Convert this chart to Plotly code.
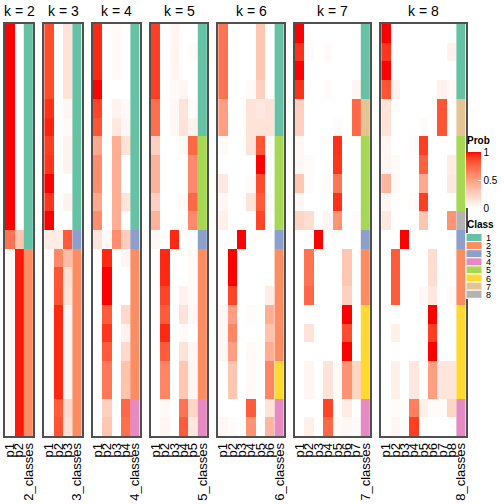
import numpy as np
import plotly.graph_objects as go

# ---------------- data ----------------
K_VALUES = [2, 3, 4, 5, 6, 7, 8]

K2_PROBS = [
    [1.00, 0.00], [1.00, 0.00], [1.00, 0.00], [1.00, 0.00], [1.00, 0.00], [1.00, 0.00],
    [1.00, 0.00], [1.00, 0.00], [1.00, 0.00], [1.00, 0.00], [1.00, 0.00],
    [0.70, 0.30],
    [0.03, 0.97], [0.03, 0.97], [0.03, 0.97], [0.03, 0.97], [0.03, 0.97],
    [0.03, 0.97], [0.03, 0.97], [0.03, 0.97], [0.03, 0.97], [0.03, 0.97],
]
K2_CLASS = [1, 1, 1, 1, 1, 1, 1, 1, 1, 1, 1, 1, 2, 2, 2, 2, 2, 2, 2, 2, 2, 2]

K3_PROBS = [
    [0.85, 0.00, 0.15], [0.85, 0.00, 0.15], [0.85, 0.00, 0.15], [0.85, 0.00, 0.15],
    [0.93, 0.00, 0.05], [0.96, 0.00, 0.03], [0.90, 0.00, 0.06], [0.92, 0.00, 0.06],
    [1.00, 0.00, 0.00], [0.92, 0.00, 0.06], [1.00, 0.00, 0.00],
    [0.10, 0.10, 0.80],
    [0.00, 0.60, 0.35], [0.00, 0.82, 0.17], [0.00, 0.83, 0.15],
    [0.00, 0.95, 0.04], [0.00, 0.95, 0.04], [0.00, 0.95, 0.04], [0.00, 0.95, 0.04],
    [0.00, 0.95, 0.04], [0.00, 0.80, 0.20], [0.00, 0.83, 0.16],
]
K3_CLASS = [1, 1, 1, 1, 1, 1, 1, 1, 1, 1, 1, 3, 2, 2, 2, 2, 2, 2, 2, 2, 2, 2]

K4_PROBS = [
    [0.95, 0.00, 0.03, 0.00], [0.95, 0.00, 0.03, 0.00], [0.95, 0.00, 0.03, 0.00],
    [1.00, 0.00, 0.00, 0.00], [0.88, 0.00, 0.06, 0.03], [0.82, 0.00, 0.12, 0.04],
    [0.45, 0.00, 0.42, 0.15], [0.58, 0.00, 0.42, 0.00], [0.58, 0.00, 0.42, 0.00],
    [0.45, 0.00, 0.42, 0.13], [0.58, 0.00, 0.42, 0.00],
    [0.13, 0.03, 0.58, 0.26],
    [0.00, 0.95, 0.00, 0.05], [0.00, 1.00, 0.00, 0.00], [0.00, 1.00, 0.00, 0.00],
    [0.00, 0.80, 0.00, 0.20], [0.00, 0.92, 0.00, 0.07], [0.00, 0.80, 0.00, 0.20],
    [0.00, 0.68, 0.00, 0.32], [0.00, 0.68, 0.00, 0.32],
    [0.00, 0.25, 0.00, 0.75], [0.00, 0.30, 0.00, 0.72],
]
K4_CLASS = [1, 1, 1, 1, 1, 1, 1, 1, 1, 1, 1, 3, 2, 2, 2, 2, 2, 2, 2, 2, 4, 4]

K5_PROBS = [
    [0.90, 0.00, 0.05, 0.00, 0.00], [0.90, 0.00, 0.05, 0.00, 0.02],
    [0.90, 0.00, 0.05, 0.00, 0.00], [0.90, 0.00, 0.03, 0.05, 0.00],
    [0.72, 0.00, 0.04, 0.15, 0.02], [0.72, 0.00, 0.04, 0.15, 0.06],
    [0.25, 0.00, 0.00, 0.03, 0.75], [0.40, 0.00, 0.00, 0.00, 0.60],
    [0.40, 0.00, 0.00, 0.00, 0.60], [0.25, 0.00, 0.00, 0.03, 0.75],
    [0.40, 0.00, 0.00, 0.00, 0.60],
    [0.04, 0.00, 0.95, 0.00, 0.00],
    [0.00, 0.95, 0.00, 0.00, 0.03], [0.00, 0.95, 0.00, 0.00, 0.03],
    [0.00, 0.88, 0.00, 0.07, 0.03], [0.00, 0.80, 0.00, 0.15, 0.04],
    [0.00, 0.95, 0.00, 0.03, 0.00], [0.00, 0.80, 0.00, 0.15, 0.04],
    [0.00, 0.62, 0.00, 0.30, 0.05], [0.00, 0.62, 0.00, 0.30, 0.05],
    [0.00, 0.03, 0.00, 0.70, 0.22], [0.00, 0.05, 0.00, 0.80, 0.12],
]
K5_CLASS = [1, 1, 1, 1, 1, 1, 5, 5, 5, 5, 5, 3, 2, 2, 2, 2, 2, 2, 2, 2, 4, 4]

K6_PROBS = [
    [0.70, 0.00, 0.00, 0.00, 0.30, 0.00], [0.70, 0.00, 0.00, 0.00, 0.30, 0.00],
    [0.70, 0.00, 0.00, 0.00, 0.30, 0.00], [0.70, 0.00, 0.00, 0.03, 0.25, 0.02],
    [0.50, 0.00, 0.00, 0.15, 0.12, 0.15], [0.50, 0.00, 0.00, 0.15, 0.15, 0.15],
    [0.03, 0.00, 0.00, 0.15, 0.82, 0.02], [0.00, 0.00, 0.00, 0.00, 1.00, 0.00],
    [0.12, 0.00, 0.00, 0.02, 0.85, 0.00], [0.04, 0.00, 0.00, 0.15, 0.80, 0.02],
    [0.08, 0.00, 0.00, 0.00, 0.88, 0.00],
    [0.00, 0.00, 1.00, 0.00, 0.00, 0.00],
    [0.00, 1.00, 0.00, 0.00, 0.00, 0.00], [0.00, 1.00, 0.00, 0.00, 0.00, 0.00],
    [0.00, 0.88, 0.00, 0.00, 0.00, 0.10], [0.04, 0.50, 0.00, 0.02, 0.00, 0.42],
    [0.04, 0.62, 0.00, 0.00, 0.00, 0.32], [0.04, 0.50, 0.00, 0.03, 0.00, 0.42],
    [0.00, 0.30, 0.00, 0.03, 0.00, 0.62], [0.00, 0.30, 0.00, 0.03, 0.00, 0.62],
    [0.00, 0.00, 0.00, 0.80, 0.00, 0.15], [0.04, 0.02, 0.00, 0.55, 0.00, 0.38],
]
K6_CLASS = [1, 1, 1, 1, 1, 1, 5, 5, 5, 5, 5, 3, 2, 2, 2, 2, 2, 2, 6, 6, 4, 4]

K7_PROBS = [
    [1.00, 0.00, 0.00, 0.00, 0.00, 0.00, 0.00],
    [0.93, 0.02, 0.00, 0.02, 0.00, 0.00, 0.00],
    [1.00, 0.00, 0.00, 0.00, 0.00, 0.00, 0.00],
    [0.93, 0.00, 0.00, 0.02, 0.00, 0.00, 0.05],
    [0.25, 0.00, 0.00, 0.00, 0.00, 0.00, 0.75],
    [0.25, 0.00, 0.00, 0.00, 0.02, 0.00, 0.75],
    [0.04, 0.00, 0.00, 0.00, 0.93, 0.00, 0.00],
    [0.04, 0.02, 0.00, 0.00, 0.92, 0.00, 0.00],
    [0.30, 0.02, 0.00, 0.02, 0.68, 0.00, 0.00],
    [0.04, 0.00, 0.00, 0.00, 0.93, 0.00, 0.00],
    [0.22, 0.18, 0.00, 0.05, 0.55, 0.00, 0.02],
    [0.00, 0.00, 1.00, 0.00, 0.00, 0.00, 0.00],
    [0.00, 0.70, 0.00, 0.00, 0.00, 0.30, 0.00],
    [0.00, 0.70, 0.00, 0.00, 0.00, 0.30, 0.00],
    [0.00, 0.75, 0.00, 0.00, 0.00, 0.25, 0.00],
    [0.00, 0.00, 0.00, 0.00, 0.00, 1.00, 0.00],
    [0.00, 0.15, 0.00, 0.00, 0.00, 0.85, 0.00],
    [0.00, 0.00, 0.00, 0.00, 0.00, 1.00, 0.00],
    [0.00, 0.05, 0.00, 0.15, 0.02, 0.55, 0.22],
    [0.00, 0.05, 0.00, 0.15, 0.02, 0.55, 0.22],
    [0.00, 0.00, 0.00, 0.88, 0.00, 0.10, 0.00],
    [0.00, 0.08, 0.00, 0.75, 0.03, 0.04, 0.03],
]
K7_CLASS = [1, 1, 1, 1, 7, 7, 5, 5, 5, 5, 5, 3, 2, 2, 2, 6, 6, 6, 6, 6, 4, 4]

K8_PROBS = [
    [1.00, 0.00, 0.00, 0.00, 0.00, 0.00, 0.00, 0.00],
    [0.92, 0.00, 0.00, 0.00, 0.00, 0.00, 0.00, 0.06],
    [1.00, 0.00, 0.00, 0.00, 0.00, 0.00, 0.00, 0.00],
    [0.82, 0.06, 0.00, 0.00, 0.00, 0.00, 0.07, 0.03],
    [0.15, 0.00, 0.00, 0.00, 0.00, 0.00, 0.82, 0.00],
    [0.15, 0.00, 0.00, 0.00, 0.02, 0.00, 0.82, 0.00],
    [0.04, 0.00, 0.00, 0.02, 0.90, 0.00, 0.00, 0.00],
    [0.05, 0.03, 0.00, 0.00, 0.78, 0.00, 0.00, 0.10],
    [0.38, 0.03, 0.00, 0.00, 0.45, 0.00, 0.00, 0.12],
    [0.04, 0.00, 0.00, 0.02, 0.90, 0.00, 0.00, 0.00],
    [0.12, 0.00, 0.00, 0.00, 0.30, 0.00, 0.00, 0.55],
    [0.00, 0.00, 1.00, 0.00, 0.00, 0.00, 0.00, 0.00],
    [0.00, 0.80, 0.00, 0.00, 0.00, 0.18, 0.00, 0.00],
    [0.00, 0.80, 0.00, 0.00, 0.00, 0.18, 0.00, 0.00],
    [0.00, 0.80, 0.00, 0.00, 0.04, 0.12, 0.00, 0.03],
    [0.00, 0.00, 0.00, 0.00, 0.00, 1.00, 0.00, 0.00],
    [0.00, 0.08, 0.00, 0.00, 0.00, 0.90, 0.00, 0.00],
    [0.00, 0.00, 0.00, 0.00, 0.00, 1.00, 0.00, 0.00],
    [0.00, 0.08, 0.00, 0.12, 0.00, 0.50, 0.13, 0.13],
    [0.00, 0.08, 0.00, 0.12, 0.00, 0.50, 0.13, 0.13],
    [0.00, 0.02, 0.00, 0.65, 0.08, 0.02, 0.02, 0.22],
    [0.00, 0.05, 0.00, 0.90, 0.02, 0.00, 0.00, 0.00],
]
K8_CLASS = [1, 1, 1, 1, 7, 7, 5, 5, 5, 5, 8, 3, 2, 2, 2, 6, 6, 6, 6, 6, 4, 4]

ALL_PROBS = [K2_PROBS, K3_PROBS, K4_PROBS, K5_PROBS, K6_PROBS, K7_PROBS, K8_PROBS]
ALL_CLASS = [K2_CLASS, K3_CLASS, K4_CLASS, K5_CLASS, K6_CLASS, K7_CLASS, K8_CLASS]

CLASS_LABELS = ["1", "2", "3", "4", "5", "6", "7", "8"]
CLASS_COLORS = ["#66C2A5", "#FC8D62", "#8DA0CB", "#E78AC3",
                "#A6D854", "#FFD92F", "#E5C494", "#B3B3B3"]
PROB_TICKS = [0, 0.5, 1]

# ---------------- styling ----------------
W = H = 504
FONT = "Liberation Sans, Arial, Helvetica, sans-serif"
COLW = 9.4
GAP = 11.0
X_START = 5.0
TOP_PX, BOT_PX = 24.0, 436.0
BORDER = "#505050"


def srgb_to_lab(rgb):
    c = np.array(rgb, dtype=float) / 255.0
    lin = np.where(c <= 0.04045, c / 12.92, ((c + 0.055) / 1.055) ** 2.4)
    M = np.array([[0.4124, 0.3576, 0.1805], [0.2126, 0.7152, 0.0722], [0.0193, 0.1192, 0.9505]])
    xyz = M @ lin / np.array([0.95047, 1.0, 1.08883])
    d = 6 / 29
    f = np.where(xyz > d ** 3, np.cbrt(xyz), xyz / (3 * d * d) + 4 / 29)
    return np.array([116 * f[1] - 16, 500 * (f[0] - f[1]), 200 * (f[1] - f[2])])


def lab_to_srgb(lab):
    L, a, b = lab
    fy = (L + 16) / 116
    fx = fy + a / 500
    fz = fy - b / 200
    d = 6 / 29
    fs = np.array([fx, fy, fz])
    xyz = np.where(fs > d, fs ** 3, 3 * d * d * (fs - 4 / 29)) * np.array([0.95047, 1.0, 1.08883])
    Minv = np.array([[3.2406, -1.5372, -0.4986], [-0.9689, 1.8758, 0.0415], [0.0557, -0.2040, 1.0570]])
    lin = np.clip(Minv @ xyz, 0, 1)
    c = np.where(lin <= 0.0031308, 12.92 * lin, 1.055 * lin ** (1 / 2.4) - 0.055)
    return tuple(int(round(v)) for v in np.clip(c * 255, 0, 255))


lab_w = srgb_to_lab([255, 255, 255])
lab_r = srgb_to_lab([255, 0, 0])
prob_scale = []
for t in np.linspace(0, 1, 21):
    r, g, b = lab_to_srgb(lab_w + (lab_r - lab_w) * t)
    prob_scale.append([float(t), f"rgb({r},{g},{b})"])

n_cls = len(CLASS_COLORS)
class_scale = []
for i, col in enumerate(CLASS_COLORS):
    class_scale.append([i / n_cls, col])
    class_scale.append([(i + 1) / n_cls, col])

fig = go.Figure()
layout = dict(
    width=W, height=H, margin=dict(l=0, r=0, t=0, b=0, autoexpand=False),
    paper_bgcolor="white", plot_bgcolor="white",
    font=dict(family=FONT, color="black"),
    showlegend=False,
)
annotations = []
shapes = []

ydom = [(H - BOT_PX) / H, (H - TOP_PX) / H]
x_left = X_START
for i, k in enumerate(K_VALUES):
    probs = ALL_PROBS[i]
    classes = ALL_CLASS[i]
    n = len(probs)
    ncol = k + 1
    x0 = x_left
    x1 = x_left + ncol * COLW
    x_left = x1 + GAP
    sfx = "" if i == 0 else str(i + 1)
    xname, yname = "x" + sfx, "y" + sfx

    trace_kw = dict(xaxis=xname, yaxis=yname, hoverinfo="skip")
    cb = None
    if i == 0:
        cb = dict(
            x=466 / W, xanchor="left", xpad=0,
            y=(H - 180) / H, yanchor="middle", ypad=0,
            len=56, lenmode="pixels", thickness=15, thicknessmode="pixels",
            tickvals=PROB_TICKS, ticktext=[str(v) for v in PROB_TICKS],
            tickfont=dict(size=10, family=FONT),
            ticks="inside", ticklen=3, tickcolor="white",
            outlinewidth=0,
        )
    fig.add_trace(go.Heatmap(
        z=probs, x0=0, dx=1, y0=0, dy=1,
        zmin=0, zmax=1, colorscale=prob_scale,
        showscale=(i == 0), colorbar=cb, **trace_kw))
    fig.add_trace(go.Heatmap(
        z=[[c] for c in classes], x0=k, dx=1, y0=0, dy=1,
        zmin=0.5, zmax=n_cls + 0.5, colorscale=class_scale,
        showscale=False, **trace_kw))

    ticktext = [f"p{j + 1}" for j in range(k)] + [f"{k}_classes"]
    layout["xaxis" + sfx] = dict(
        domain=[x0 / W, x1 / W], anchor=yname,
        range=[-0.5, k + 0.5], tickmode="array",
        tickvals=list(range(k + 1)), ticktext=ticktext,
        tickangle=-90, tickfont=dict(size=13, family=FONT, color="black"),
        ticks="", showgrid=False, zeroline=False, automargin=False,
        showline=True, mirror=True, linecolor=BORDER, linewidth=1.5,
        fixedrange=True,
    )
    layout["yaxis" + sfx] = dict(
        domain=ydom, anchor=xname,
        range=[n - 0.5, -0.5], showticklabels=False, ticks="",
        showgrid=False, zeroline=False, automargin=False,
        showline=True, mirror=True, linecolor=BORDER, linewidth=1.5,
        fixedrange=True,
    )
    annotations.append(dict(
        text=f"k = {k}", xref="paper", yref="paper",
        x=(x0 + x1) / 2 / W, y=(H - 11) / H, xanchor="center", yanchor="middle",
        showarrow=False, font=dict(size=14, family=FONT, color="black"),
    ))

# Prob legend title
annotations.append(dict(
    text="<b>Prob</b>", xref="paper", yref="paper",
    x=466 / W, y=(H - 140) / H, xanchor="left", yanchor="middle",
    showarrow=False, font=dict(size=10, family=FONT, color="black"), borderpad=0,
))
# Class legend
annotations.append(dict(
    text="<b>Class</b>", xref="paper", yref="paper",
    x=466 / W, y=(H - 224) / H, xanchor="left", yanchor="middle",
    showarrow=False, font=dict(size=10, family=FONT, color="black"), borderpad=0,
))
item_h = 8.1
top0 = 233.5
for j, (lab, col) in enumerate(zip(CLASS_LABELS, CLASS_COLORS)):
    y_top = top0 + j * item_h
    shapes.append(dict(
        type="rect", xref="paper", yref="paper",
        x0=466 / W, x1=482 / W, y0=(H - y_top - item_h) / H, y1=(H - y_top) / H,
        fillcolor=col, line=dict(color="white", width=1),
    ))
    annotations.append(dict(
        text=lab, xref="paper", yref="paper",
        x=485 / W, y=(H - y_top - item_h / 2) / H, xanchor="left", yanchor="middle",
        showarrow=False, font=dict(size=9, family=FONT, color="black"),
        height=7, valign="middle", borderpad=0,
    ))

layout["annotations"] = annotations
layout["shapes"] = shapes
fig.update_layout(**layout)
fig.write_html(
    "out.html",
    config={"displayModeBar": False},
    post_script="document.body.style.margin='0';document.body.style.overflow='hidden';",
)
